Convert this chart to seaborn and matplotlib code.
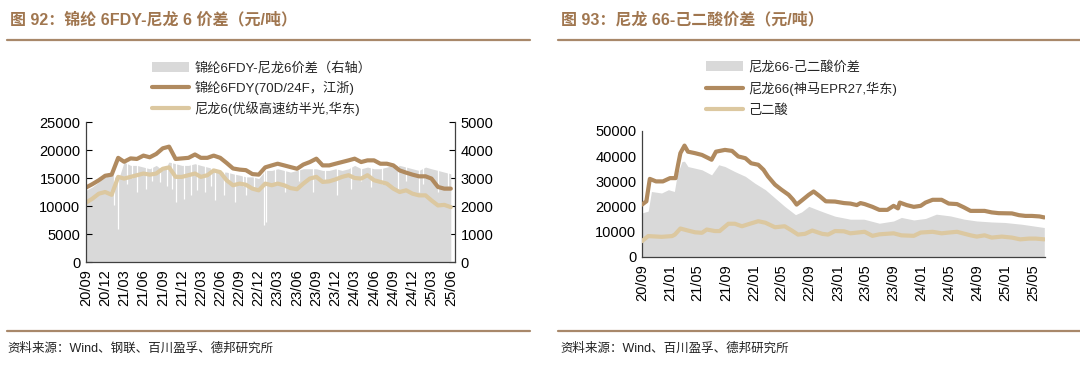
import numpy as np
import pandas as pd
import matplotlib
matplotlib.use('Agg')
import matplotlib.pyplot as plt
import matplotlib.dates as mdates
from matplotlib.lines import Line2D
from matplotlib.patches import Patch
import seaborn as sns

sns.set_style('white')
plt.rcParams['font.family'] = ['Liberation Sans', 'Noto Sans CJK SC', 'DejaVu Sans']
plt.rcParams['axes.unicode_minus'] = False

BROWN = '#B08A5F'
TAN = '#DCC8A0'
GRAY = '#D9D9D9'
TITLE_C = '#A0764F'
RULE_C = '#A8886A'
AXIS_C = '#404040'

# ------------------------------------------------------------
# Fig 92 data: monthly, 2020/09 .. 2025/06
# ------------------------------------------------------------
months_92 = pd.date_range('2020-09-01', '2025-06-01', freq='MS')

fdy_price = [13300, 13900, 14600, 15400, 15600, 18600, 17900, 18500, 18400, 19000,
             18700, 19300, 20300, 20600, 18400, 18500, 18600, 19200, 18600, 18600,
             19000, 18600, 17700, 16700, 16500, 16400, 15700, 15600, 16900, 17250,
             17550, 17250, 16950, 16650, 17400, 17850, 18450, 17250, 17250, 17550,
             17850, 18150, 18450, 17850, 18150, 18150, 17550, 17550, 17250, 16350,
             15950, 15600, 15300, 15300, 14900, 13400, 13100, 13100]

pa6_price = [10600, 11300, 12200, 12500, 12000, 15200, 14900, 15200, 15500, 15800,
             15600, 15800, 16650, 16900, 15200, 15200, 15500, 15800, 15200, 15500,
             16350, 16050, 14600, 13700, 14000, 13800, 13100, 12800, 14000, 13700,
             14000, 13700, 13200, 13000, 14000, 14900, 15200, 14300, 14400, 14750,
             15200, 15500, 15000, 14900, 15500, 14600, 14300, 14000, 13100, 12500,
             12800, 12200, 11900, 11900, 11000, 10100, 10200, 9800]

# spread (right axis)
fdy_spread = [2560, 2680, 2860, 3030, 3150, 2920, 3570, 3450, 3450, 3390,
              3330, 3450, 3270, 3570, 3510, 3450, 3450, 3510, 3450, 3390,
              3330, 3210, 3210, 3150, 3100, 3040, 3040, 2980, 3270, 3270,
              3330, 3270, 3210, 3270, 3330, 3330, 3330, 3270, 3270, 3330,
              3270, 3330, 3450, 3330, 3390, 3330, 3330, 3390, 3450, 3450,
              3390, 3330, 3270, 3390, 3330, 3270, 3210, 3150]

# short-lived drops in the daily spread
dip_dates = ['2021-01-12', '2021-01-29', '2021-03-15', '2021-04-10', '2021-05-03',
             '2021-06-12', '2021-07-10', '2021-08-21', '2021-09-20', '2021-10-15',
             '2021-11-03', '2021-12-12', '2022-01-12', '2022-02-12', '2022-03-23',
             '2022-04-20', '2022-05-09', '2022-06-18', '2022-07-15', '2022-08-12',
             '2022-09-15', '2022-10-01', '2022-11-09', '2022-12-28', '2023-01-06',
             '2023-02-15', '2023-04-03', '2023-06-10', '2023-08-18', '2023-10-10',
             '2023-12-06', '2024-02-15', '2024-04-01', '2024-05-18', '2024-07-10',
             '2024-09-24', '2024-11-01', '2024-12-31', '2025-01-20', '2025-04-03',
             '2025-05-20']
dip_values = [2020, 1190, 2800, 3000, 2500,
              2620, 2900, 2860, 2700, 2600,
              2140, 2260, 2380, 2560, 2500,
              2700, 2200, 2380, 2800, 2140,
              2700, 2380, 2560, 1310, 1430,
              2800, 2500, 2900, 2500, 2900,
              2380, 2620, 2900, 2680, 2800,
              2560, 2900, 2500, 2800, 2500,
              2700]

# ------------------------------------------------------------
# Fig 93 data
# ------------------------------------------------------------
pa66_dates = ['2020-09-01', '2020-09-20', '2020-10-05', '2020-11-01', '2020-12-01',
              '2021-01-01', '2021-01-25', '2021-02-05', '2021-02-15', '2021-03-05',
              '2021-03-20', '2021-04-20', '2021-05-20', '2021-07-01', '2021-07-20',
              '2021-08-28', '2021-09-28', '2021-10-25', '2021-11-25', '2021-12-20',
              '2022-01-20', '2022-02-12', '2022-03-03', '2022-04-03', '2022-05-01',
              '2022-06-01', '2022-06-20', '2022-07-06', '2022-07-28', '2022-08-28',
              '2022-09-18', '2022-10-15', '2022-11-10', '2022-12-20', '2023-01-28',
              '2023-02-25', '2023-03-25', '2023-04-10', '2023-04-28', '2023-06-01',
              '2023-07-01', '2023-08-05', '2023-09-01', '2023-09-20', '2023-09-28',
              '2023-10-28', '2023-11-28', '2023-12-28', '2024-01-18', '2024-02-18',
              '2024-03-28', '2024-04-28', '2024-06-03', '2024-07-03', '2024-08-01',
              '2024-10-01', '2024-11-01', '2024-12-01', '2025-01-28', '2025-02-28',
              '2025-03-28', '2025-04-25', '2025-05-28', '2025-06-18']
pa66_price = [20800, 22100, 31000, 30000, 30000,
              31300, 31300, 36600, 41200, 44200,
              41800, 41200, 40500, 38600, 41800,
              42500, 42100, 39900, 39200, 37200,
              36600, 34600, 32000, 28700, 26700,
              24700, 22800, 20800, 22400, 24700,
              26000, 24100, 22100, 22000, 21400,
              21200, 20600, 21400, 21000, 19900,
              18700, 18700, 20300, 19300, 21600,
              20600, 19900, 20300, 21600, 22700,
              22700, 21200, 21000, 19700, 18300,
              18300, 17700, 17400, 17300, 16600,
              16300, 16300, 16100, 15700]

aa_dates = ['2020-09-01', '2020-09-28', '2020-11-25', '2021-01-10', '2021-01-22',
            '2021-02-15', '2021-03-20', '2021-04-20', '2021-05-20', '2021-06-10',
            '2021-07-15', '2021-08-05', '2021-09-12', '2021-10-10', '2021-11-10',
            '2021-12-15', '2022-01-20', '2022-02-20', '2022-04-03', '2022-05-15',
            '2022-06-15', '2022-07-12', '2022-08-12', '2022-09-12', '2022-10-25',
            '2022-11-20', '2022-12-20', '2023-01-28', '2023-02-25', '2023-04-28',
            '2023-06-01', '2023-07-01', '2023-09-01', '2023-10-05', '2023-11-28',
            '2023-12-28', '2024-02-18', '2024-03-28', '2024-04-28', '2024-06-03',
            '2024-08-01', '2024-08-28', '2024-10-01', '2024-11-01', '2024-12-15',
            '2025-01-28', '2025-03-05', '2025-04-12', '2025-05-12', '2025-06-18']
aa_price = [6300, 8300, 8000, 8300, 8900,
            11300, 10500, 9800, 9600, 10900,
            10300, 10300, 13200, 13200, 12200,
            13200, 14200, 13600, 11800, 12200,
            10500, 8900, 9200, 10500, 9200,
            8900, 10300, 10200, 9400, 10000,
            8400, 9000, 9400, 8600, 8400,
            9700, 10000, 9400, 9700, 10000,
            8600, 8100, 8600, 7700, 8100,
            7700, 7000, 7300, 7300, 7000]

sp66_dates = ['2020-09-01', '2020-09-28', '2020-10-12', '2020-11-25', '2020-12-25',
              '2021-01-20', '2021-02-01', '2021-02-22', '2021-03-05', '2021-03-20',
              '2021-05-20', '2021-07-01', '2021-08-01', '2021-08-28', '2021-10-10',
              '2021-11-25', '2022-01-05', '2022-02-20', '2022-04-03', '2022-05-15',
              '2022-07-01', '2022-07-28', '2022-08-28', '2022-10-03', '2022-11-10',
              '2022-12-20', '2023-01-28', '2023-02-25', '2023-04-25', '2023-07-01',
              '2023-09-01', '2023-10-05', '2023-11-28', '2024-01-18', '2024-03-05',
              '2024-05-05', '2024-07-05', '2024-08-28', '2024-11-01', '2024-12-28',
              '2025-03-12', '2025-06-18']
sp66_value = [17500, 18200, 26000, 25400, 26700,
              26000, 32600, 37900, 38000, 35900,
              34600, 32600, 36600, 35900, 33900,
              32000, 29300, 26700, 23400, 20100,
              16800, 17900, 20100, 18800, 17500,
              16200, 15500, 15000, 15000, 13400,
              14300, 15700, 14700, 15300, 17000,
              16300, 15000, 14300, 13900, 13700,
              13000, 11700]

ticks_92 = pd.date_range('2020-09-01', '2025-06-01', freq='3MS')
ticks_93 = pd.date_range('2020-09-01', '2025-05-01', freq='4MS')
x_start, x_end = pd.Timestamp('2020-09-01'), pd.Timestamp('2025-06-21')

df92 = pd.DataFrame({'date': months_92, 'fdy': fdy_price, 'pa6': pa6_price,
                     'spread': fdy_spread})
dips = pd.DataFrame({'date': pd.to_datetime(dip_dates), 'value': dip_values})
pa66 = pd.DataFrame({'date': pd.to_datetime(pa66_dates), 'value': pa66_price})
aa = pd.DataFrame({'date': pd.to_datetime(aa_dates), 'value': aa_price})
sp66 = pd.DataFrame({'date': pd.to_datetime(sp66_dates), 'value': sp66_value})

# ------------------------------------------------------------
fig = plt.figure(figsize=(10.8, 3.74), dpi=100)
W, H = 1080, 374

def frac_box(x0, y0, x1, y1):
    return [x0 / W, 1 - y1 / H, (x1 - x0) / W, (y1 - y0) / H]

ax1 = fig.add_axes(frac_box(86, 122, 455, 262))
ax1r = ax1.twinx()
ax2 = fig.add_axes(frac_box(642, 131, 1045, 257))

# ---- Fig 92 ----
ax1r.fill_between(df92['date'], 0, df92['spread'], color=GRAY, lw=0, zorder=1)
ax1r.vlines(dips['date'], dips['value'], 5000, color='white', lw=0.9, zorder=2)
ax1.set_zorder(ax1r.get_zorder() + 1)
ax1.patch.set_visible(False)

sns.lineplot(data=df92, x='date', y='fdy', ax=ax1, color=BROWN, lw=3)
sns.lineplot(data=df92, x='date', y='pa6', ax=ax1, color=TAN, lw=3)

ax1.set_ylim(0, 25000)
ax1.set_yticks(np.arange(0, 25001, 5000))
ax1r.set_ylim(0, 5000)
ax1r.set_yticks(np.arange(0, 5001, 1000))
ax1.set_xlim(x_start, x_end)
ax1.set_xticks(ticks_92)
ax1.xaxis.set_major_formatter(mdates.DateFormatter('%y/%m'))

for s in ['top', 'right']:
    ax1.spines[s].set_visible(False)
for s in ['top', 'left', 'bottom']:
    ax1r.spines[s].set_visible(False)

# ---- Fig 93 ----
ax2.fill_between(sp66['date'], 0, sp66['value'], color=GRAY, lw=0, zorder=1)
sns.lineplot(data=pa66, x='date', y='value', ax=ax2, color=BROWN, lw=3, zorder=3)
sns.lineplot(data=aa, x='date', y='value', ax=ax2, color=TAN, lw=3, zorder=3)
ax2.set_ylim(0, 50000)
ax2.set_yticks(np.arange(0, 50001, 10000))
ax2.set_xlim(x_start, x_end)
ax2.set_xticks(ticks_93)
ax2.xaxis.set_major_formatter(mdates.DateFormatter('%y/%m'))
for s in ['top', 'right']:
    ax2.spines[s].set_visible(False)

for a in (ax1, ax1r, ax2):
    a.set_xlabel('')
    a.set_ylabel('')
    a.tick_params(axis='both', direction='in', length=4, width=0.8,
                  colors='black', labelsize=10.5, pad=4)
    for s in a.spines.values():
        s.set_color(AXIS_C)
        s.set_linewidth(0.9)
for a in (ax1, ax2):
    a.tick_params(axis='x', labelrotation=90, pad=5)
    a.grid(False)

# ---- legends ----
h92 = [Patch(facecolor=GRAY, edgecolor='none'),
       Line2D([], [], color=BROWN, lw=3),
       Line2D([], [], color=TAN, lw=3)]
l92 = ['锦纶6FDY-尼龙6价差（右轴）', '锦纶6FDY(70D/24F，江浙)', '尼龙6(优级高速纺半光,华东)']
fig.legend(h92, l92, loc='upper left', bbox_to_anchor=(152 / W, 1 - 62 / H),
           frameon=False, fontsize=9.5, handlelength=2.8, handleheight=0.8,
           labelspacing=0.45, borderpad=0, borderaxespad=0, handletextpad=0.4)

h93 = [Patch(facecolor=GRAY, edgecolor='none'),
       Line2D([], [], color=BROWN, lw=3),
       Line2D([], [], color=TAN, lw=3)]
l93 = ['尼龙66-己二酸价差', '尼龙66(神马EPR27,华东)', '己二酸']
fig.legend(h93, l93, loc='upper left', bbox_to_anchor=(706 / W, 1 - 61 / H),
           frameon=False, fontsize=9.5, handlelength=2.8, handleheight=0.8,
           labelspacing=0.6, borderpad=0, borderaxespad=0, handletextpad=0.4)

# ---- titles, rules, sources ----
fig.text(10 / W, 1 - 20 / H, '图 92：锦纶 6FDY-尼龙 6 价差（元/吨）', fontsize=11.5,
         fontweight='bold', color=TITLE_C, va='center', ha='left')
fig.text(561 / W, 1 - 20 / H, '图 93：尼龙 66-己二酸价差（元/吨）', fontsize=11.5,
         fontweight='bold', color=TITLE_C, va='center', ha='left')
for x0, x1 in [(7, 530), (558, 1080)]:
    fig.add_artist(Line2D([x0 / W, x1 / W], [1 - 40 / H] * 2, color=RULE_C, lw=1.6))
    fig.add_artist(Line2D([x0 / W, x1 / W], [1 - 331 / H] * 2, color=RULE_C, lw=1.6))
fig.text(7 / W, 1 - 349 / H, '资料来源：Wind、钢联、百川盈孚、德邦研究所', fontsize=9,
         color='#222222', va='center', ha='left')
fig.text(560 / W, 1 - 349 / H, '资料来源：Wind、百川盈孚、德邦研究所', fontsize=9,
         color='#222222', va='center', ha='left')

fig.savefig('out.png', dpi=100)
